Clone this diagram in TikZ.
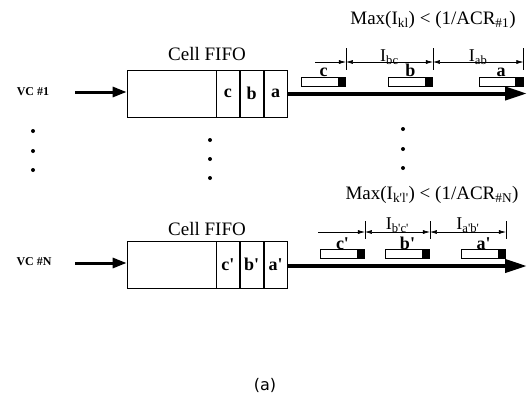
\documentclass[tikz,border=0pt]{standalone}
\usepackage{fontspec}
\setmainfont{Liberation Serif}
\newfontfamily\capfont{DejaVu Sans}
\usetikzlibrary{arrows.meta}
\usetikzlibrary{positioning}

\newcommand{\pr}{\textquotesingle}

\tikzset{
    fifo/.style={draw, line width=0.8pt, minimum width=160pt, minimum height=47pt, inner sep=0pt},
    cell/.style={draw, line width=0.8pt, minimum width=23pt, minimum height=47pt, inner sep=0pt,
        font=\fontsize{18}{18}\selectfont\bfseries},
    pkt/.style={draw, line width=0.8pt, fill=white, minimum width=44pt, minimum height=9pt, inner sep=0pt},
    pktlbl/.style={inner sep=0pt, font=\fontsize{18}{18}\selectfont\bfseries},
    bigtxt/.style={inner sep=1pt, font=\fontsize{19}{19}\selectfont},
    vclbl/.style={inner sep=0pt, font=\fontsize{12}{12}\selectfont\bfseries},
    dimlbl/.style={inner sep=0pt, font=\fontsize{18}{18}\selectfont},
    inarrow/.style={line width=3pt, -{Triangle[length=14pt, width=10pt]}},
    outarrow/.style={line width=4pt, -{Triangle[length=22pt, width=13pt]}},
    dimarrow/.style={line width=0.6pt, -{Latex[length=7pt, width=4pt]}},
    dimboth/.style={line width=0.6pt, {Latex[length=7pt, width=4pt]}-{Latex[length=7pt, width=4pt]}},
    tickline/.style={line width=0.6pt}
}

\begin{document}
\begin{tikzpicture}[x=1pt, y=-1pt]
    % Page frame (same proportions as the figure)
    \useasboundingbox (0,0) rectangle (528,405);

    % ---- Upper connection: VC #1 ----
    \node[fifo] (fifo1) at (207,93.5) {};
    \node[cell, anchor=east] (a1) at (fifo1.east) {a};
    \node[cell, left=0pt of a1] (b1) {b};
    \node[cell, left=0pt of b1] (c1) {c};
    \node[bigtxt, above=8pt of fifo1] (title1) {Cell FIFO};
    \node[vclbl] (vc1) at (33,92) {VC \#1};
    \coordinate (in1) at (75,92);
    \coordinate (out1) at (527,93.5);
    \draw[inarrow] (in1) -- (fifo1.west |- in1);
    \draw[outarrow] (a1.east) -- (out1);% Output link

    % Cells on the link
    \node[pkt, label={[pktlbl]above:c}] (pc1) at (323.5,81.5) {};
    \node[pkt, label={[pktlbl]above:b}] (pb1) at (410.5,81.5) {};
    \node[pkt, label={[pktlbl]above:a}] (pa1) at (501,81.5) {};

    % Inter-cell gaps
    \coordinate (s1) at (315,62);
    \coordinate (t1) at (pc1.east |- s1);
    \coordinate (t2) at (pb1.east |- s1);
    \coordinate (t3) at (pa1.east |- s1);
    \draw[dimarrow] (s1) -- (t1);
    \draw[dimboth] (t1) -- node[midway, above=-3pt, dimlbl] {I\textsubscript{bc}} (t2);
    \draw[dimboth] (t2) -- node[midway, above=-3pt, dimlbl] {I\textsubscript{ab}} (t3);
    \draw[tickline] ([yshift=14pt]t1) -- ([yshift=-8pt]t1);
    \draw[tickline] ([yshift=14pt]t2) -- ([yshift=-8pt]t2);
    \draw[tickline] ([yshift=14pt]t3) -- ([yshift=-8pt]t3);
    \node[bigtxt] (max1) at (433,20) {Max(I\textsubscript{kl}) < (1/ACR\textsubscript{\#1})};

    % ---- Vertical dots ----
    \foreach \yy in {131,151,170} \fill (33,\yy) circle (2pt);
    \foreach \yy in {140,159,178} \fill (210,\yy) circle (2pt);
    \foreach \yy in {129,149,168} \fill (403,\yy) circle (2pt);

    % ---- Lower connection: VC #N ----
    \node[fifo] (fifoN) at (207,264.5) {};
    \node[cell, anchor=east] (aN) at (fifoN.east) {a\pr};
    \node[cell, left=0pt of aN] (bN) {b\pr};
    \node[cell, left=0pt of bN] (cN) {c\pr};
    \node[bigtxt, above=4pt of fifoN] (titleN) {Cell FIFO};
    \node[vclbl] (vcN) at (34,262) {VC \#N};
    \coordinate (inN) at (75,263);
    \coordinate (outN) at (527,266);
    \draw[inarrow] (inN) -- (fifoN.west |- inN);
    \draw[outarrow] (aN.east |- outN) -- (outN);% Output link

    % Cells on the link
    \node[pkt, label={[pktlbl, yshift=-1pt]above:c\pr}] (pcN) at (342.5,254) {};
    \node[pkt, label={[pktlbl, yshift=-1pt]above:b\pr}] (pbN) at (407.5,254) {};
    \node[pkt, label={[pktlbl, yshift=-1pt]above:a\pr}] (paN) at (483.5,254) {};

    % Inter-cell gaps
    \coordinate (sN) at (318,232);
    \coordinate (u1) at (pcN.east |- sN);
    \coordinate (u2) at (pbN.east |- sN);
    \coordinate (u3) at (paN.east |- sN);
    \draw[dimarrow] (sN) -- (u1);
    \draw[dimboth] (u1) -- node[midway, above=-1pt, dimlbl] {I\textsubscript{b\pr c\pr}} (u2);
    \draw[dimboth] (u2) -- node[midway, above=-1pt, dimlbl] {I\textsubscript{a\pr b\pr}} (u3);
    \draw[tickline] ([yshift=11pt]u1) -- ([yshift=-7pt]u1);
    \draw[tickline] ([yshift=11pt]u2) -- ([yshift=-7pt]u2);
    \draw[tickline] ([yshift=11pt]u3) -- ([yshift=-7pt]u3);
    \node[bigtxt] (maxN) at (432,195) {Max(I\textsubscript{k\pr l\pr}) < (1/ACR\textsubscript{\#N})};

    % Black heads of the cells
    \foreach \p in {pc1,pb1,pa1,pcN,pbN,paN}
        \fill ([xshift=-8pt]\p.north east) rectangle (\p.south east);

    % Caption
    \node[inner sep=0pt, font=\capfont\fontsize{16}{16}\selectfont] (cap) at (265,385) {(a)};
\end{tikzpicture}
\end{document}
